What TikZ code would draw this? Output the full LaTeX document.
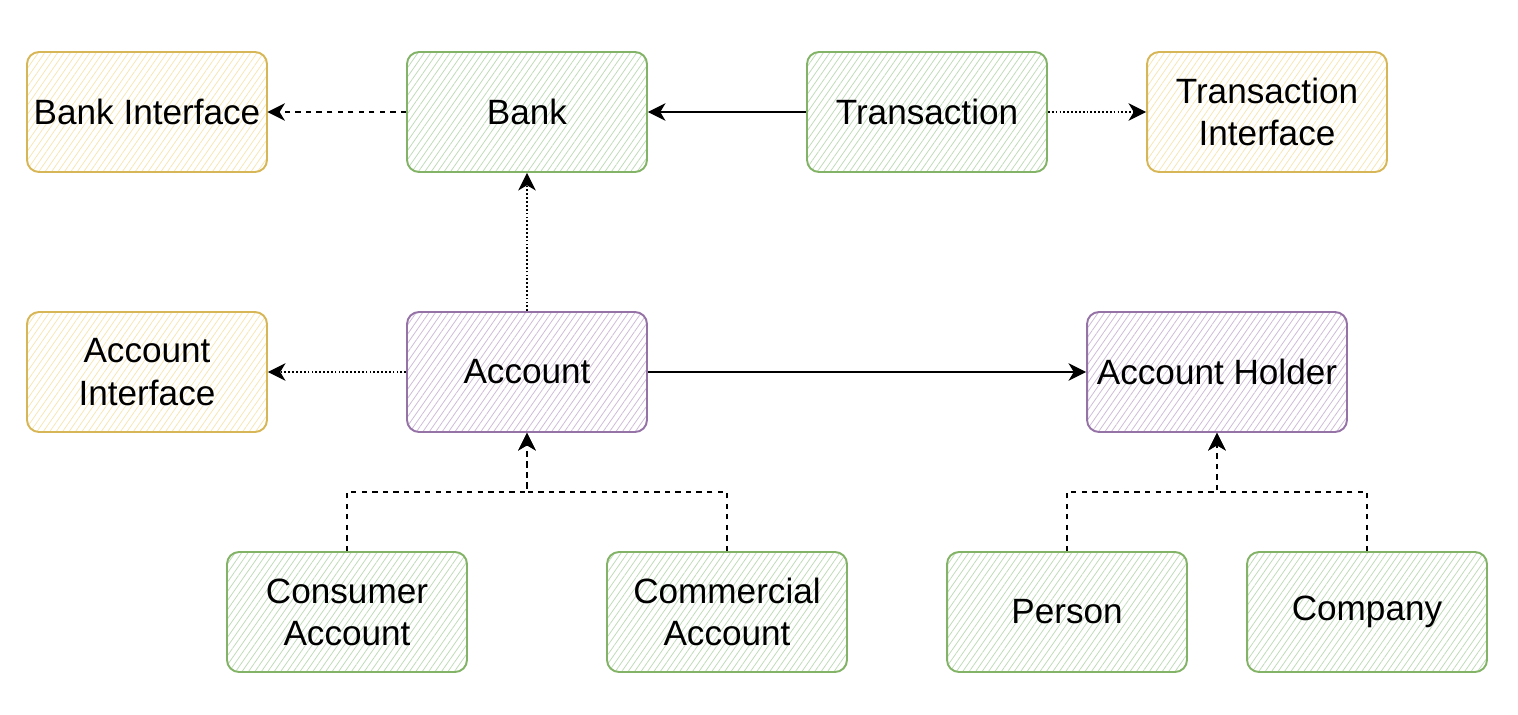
\documentclass[tikz,border=0pt]{standalone}
\usepackage{fontspec}
\setmainfont{Liberation Sans}
\usetikzlibrary{arrows.meta,patterns.meta}
\definecolor{yfill}{HTML}{FFF2CC}
\definecolor{yline}{HTML}{D6B656}
\definecolor{gfill}{HTML}{D5E8D4}
\definecolor{gline}{HTML}{82B366}
\definecolor{pfill}{HTML}{E1D5E7}
\definecolor{pline}{HTML}{9673A6}
\tikzset{
    box/.style={draw, line width=1.1pt, rounded corners=0.24cm, minimum width=4.8cm, minimum height=2.4cm,
        align=center, inner sep=2pt, font=\fontsize{20}{24}\selectfont},
    ifacebox/.style={box, draw=yline, pattern={Lines[angle=55,distance=3pt,line width=0.45pt]}, pattern color=yfill!80!yline},
    classbox/.style={box, draw=gline, pattern={Lines[angle=55,distance=3pt,line width=0.45pt]}, pattern color=gfill!75!gline},
    holderbox/.style={box, draw=pline, pattern={Lines[angle=55,distance=3pt,line width=0.45pt]}, pattern color=pfill!75!pline},
    link/.style={line width=0.75pt, -{Stealth[length=10pt,width=10pt,inset=3pt]}},
    solidlink/.style={link},
    dashlink/.style={link, dash pattern=on 3pt off 3pt},
    dotlink/.style={link, dash pattern=on 1pt off 1.2pt},
}
\begin{document}
\begin{tikzpicture}[x=0.02cm,y=-0.02cm]
    \useasboundingbox (0,0) rectangle (1518,714);
    % top row
    \node [ifacebox] (bankif) at (147,112) {Bank Interface};
    \node [classbox] (bank) at (527,112) {Bank};
    \node [classbox] (trans) at (927,112) {Transaction};
    \node [ifacebox] (transif) at (1267,112) {Transaction\\Interface};
    % middle row
    \node [ifacebox] (acctif) at (147,372) {Account\\Interface};
    \node [holderbox] (acct) at (527,372) {Account};
    \node [holderbox, minimum width=5.2cm] (holder) at (1217,372) {Account Holder};
    % bottom row
    \node [classbox] (consumer) at (347,612) {Consumer\\Account};
    \node [classbox] (commercial) at (727,612) {Commercial\\Account};
    \node [classbox] (person) at (1067,612) {Person};
    \node [classbox] (company) at (1367,612) {Company};
    \coordinate (acctjoin) at (527,492);
    \coordinate (holderjoin) at (1217,492);
    % links
    \draw [dashlink] (bank) -- (bankif);
    \draw [solidlink] (trans) -- (bank);
    \draw [dotlink] (trans) -- (transif);
    \draw [dotlink] (acct) -- (bank);
    \draw [dotlink] (acct) -- (acctif);
    \draw [solidlink] (acct) -- (holder);
    \draw [dashlink] (consumer.north) |- (acctjoin) -- (acct.south);
    \draw [dashlink] (commercial.north) |- (acctjoin) -- (acct.south);
    \draw [dashlink] (person.north) |- (holderjoin) -- (holder.south);
    \draw [dashlink] (company.north) |- (holderjoin) -- (holder.south);
\end{tikzpicture}
\end{document}
